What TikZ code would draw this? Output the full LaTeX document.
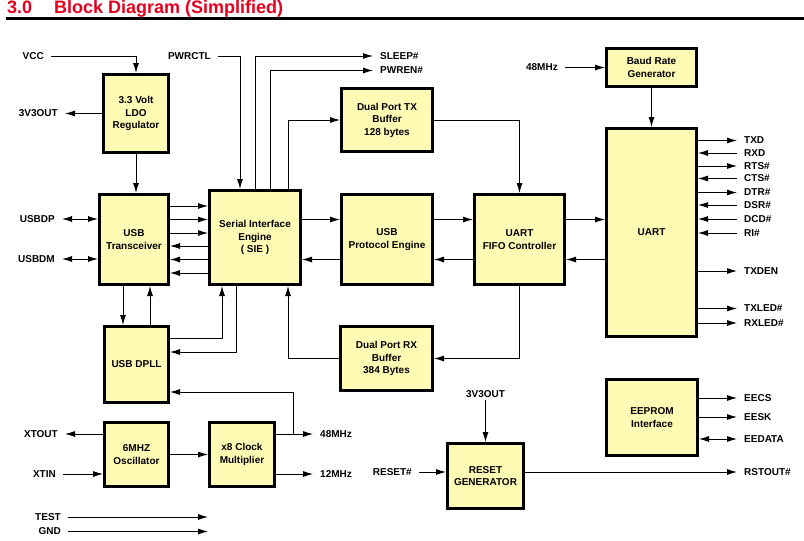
\documentclass[tikz,border=0pt]{standalone}
\usepackage{fontspec}
\setmainfont{Liberation Sans}
\usetikzlibrary{arrows.meta,positioning}
\definecolor{blockfill}{RGB}{255,250,180}
\definecolor{titlered}{RGB}{230,0,30}
\newcommand{\blockfont}{\bfseries\fontsize{10}{12.5}\selectfont}

\begin{document}
\begin{tikzpicture}[x=1pt,y=-1pt,>={Latex[length=10pt,width=6pt]}]
  \useasboundingbox (0,0) rectangle (804,541);
  \begin{scope}[heading/.style={anchor=base west,inner sep=0pt,text=titlered,
      font=\bfseries\fontsize{18}{20}\selectfont}]
    \node[heading] (number) at (7,13) {3.0};
    \node[heading] (heading) at (54,13) {Block Diagram (Simplified)};
    \draw[line width=2.3pt] (6,18.5) -- (804,18.5);
  \end{scope}
  \begin{scope}[
    block/.style={
      draw,
      line width=3pt,
      fill=blockfill,
      align=center,
      font=\blockfont,
    },
    ]
    \node[block,minimum width=65pt,minimum height=78pt] (ldo)    at (136,113.5) {3.3 Volt\\LDO\\Regulator};
    \node[block,minimum width=69pt,minimum height=90pt] (xcvr)   at (134,239.5) {USB\\Transceiver};
    \node[block,minimum width=91pt,minimum height=94pt] (sie)    at (255,237.5) {Serial Interface\\Engine\\( SIE )};
    \node[block,minimum width=64pt,minimum height=76pt] (dpll)   at (136.5,364.5) {USB DPLL};
    \node[block,minimum width=64pt,minimum height=64pt] (osc)    at (136.5,454.5) {6MHZ\\Oscillator};
    \node[block,minimum width=65pt,minimum height=64pt] (mult)   at (242,454.5) {x8 Clock\\Multiplier};
    \node[block,minimum width=91pt,minimum height=63pt] (txbuf)  at (387,120) {Dual Port TX\\Buffer\\128 bytes};
    \node[block,minimum width=91pt,minimum height=90pt] (upe)    at (387,239.5) {USB\\Protocol Engine};
    \node[block,minimum width=90pt,minimum height=90pt] (fifo)   at (519.5,239.5) {UART\\FIFO Controller};
    \node[block,minimum width=90pt,minimum height=38pt] (baud)   at (651.5,67.5) {Baud Rate\\Generator};
    \node[block,minimum width=90pt,minimum height=208pt] (uart)  at (651.5,232.5) {UART};
    \node[block,minimum width=92pt,minimum height=64pt] (rxbuf)  at (386.5,358.5) {Dual Port RX\\Buffer\\384 Bytes};
    \node[block,minimum width=76pt,minimum height=65pt] (rst)    at (485.5,476) {RESET\\GENERATOR};
    \node[block,minimum width=91pt,minimum height=76pt] (eeprom) at (652,417.5) {EEPROM\\Interface};
  \end{scope}
  \begin{scope}[pin/.style={font=\blockfont,inner xsep=7pt,inner ysep=2pt}]
    \node[pin,anchor=east] (vcc)    at (51,56)    {VCC};
    \node[pin,anchor=east] (pwrctl) at (218,56)   {PWRCTL};
    \node[pin,anchor=west] (sleep)  at (373,56)   {SLEEP\#};
    \node[pin,anchor=west] (pwren)  at (373,70.5) {PWREN\#};
    \node[pin,left=37pt of ldo]     (v3out)       {3V3OUT};
    \node[pin,anchor=east] (usbdp)  at (62,219)   {USBDP};
    \node[pin,anchor=east] (usbdm)  at (62,259)   {USBDM};
    \node[pin,anchor=east] (xtout)  at (65,434)   {XTOUT};
    \node[pin,anchor=east] (xtin)   at (63,474)   {XTIN};
    \node[pin,anchor=east] (test)   at (68,517)   {TEST};
    \node[pin,anchor=east] (gnd)    at (68,531.5) {GND};
    \node[pin,anchor=west] (clk48)  at (313,434)  {48MHz};
    \node[pin,anchor=west] (clk12)  at (313,474)  {12MHz};
    \node[pin,left=40pt of baud]    (clkin)       {48MHz};
    \node[pin,above=42pt of rst]    (v3in)        {3V3OUT};
    \node[pin,anchor=east] (rstin)  at (419,472)  {RESET\#};
    \node[pin,anchor=west] (rstout) at (737,472)  {RSTOUT\#};
    \node[pin,anchor=west] (txd)    at (737,140.5) {TXD};
    \node[pin,anchor=west] (rxd)    at (737,153)  {RXD};
    \node[pin,anchor=west] (rts)    at (737,166)  {RTS\#};
    \node[pin,anchor=west] (cts)    at (737,178.5) {CTS\#};
    \node[pin,anchor=west] (dtr)    at (737,192.5) {DTR\#};
    \node[pin,anchor=west] (dsr)    at (737,205)  {DSR\#};
    \node[pin,anchor=west] (dcd)    at (737,219)  {DCD\#};
    \node[pin,anchor=west] (ri)     at (737,233)  {RI\#};
    \node[pin,anchor=west] (txden)  at (737,271)  {TXDEN};
    \node[pin,anchor=west] (txled)  at (737,308.5) {TXLED\#};
    \node[pin,anchor=west] (rxled)  at (737,323)  {RXLED\#};
    \node[pin,anchor=west] (eecs)   at (737,398)  {EECS};
    \node[pin,anchor=west] (eesk)   at (737,417)  {EESK};
    \node[pin,anchor=west] (eedata) at (737,439)  {EEDATA};
  \end{scope}
  \begin{scope}[line width=0.9pt]
    \draw[->] (vcc.east) -| (ldo.north);
    \draw[->] (ldo.west) -- (v3out.east);
    \draw[->] (ldo.south) -- (ldo.south |- xcvr.north);
    \draw[<->] (usbdp.east) -- (usbdp.east -| xcvr.west);
    \draw[<->] (usbdm.east) -- (usbdm.east -| xcvr.west);
    \draw[->] ([yshift=33.5pt]xcvr.east) -- ([yshift=33.5pt]xcvr.east -| sie.west);
    \draw[->] ([yshift=20pt]xcvr.east) -- ([yshift=20pt]xcvr.east -| sie.west);
    \draw[->] ([yshift=6.5pt]xcvr.east) -- ([yshift=6.5pt]xcvr.east -| sie.west);
    \draw[<-] ([yshift=-6.5pt]xcvr.east) -- ([yshift=-6.5pt]xcvr.east -| sie.west);
    \draw[<-] ([yshift=-20pt]xcvr.east) -- ([yshift=-20pt]xcvr.east -| sie.west);
    \draw[<-] ([yshift=-33.5pt]xcvr.east) -- ([yshift=-33.5pt]xcvr.east -| sie.west);
    \draw[->] ([xshift=-11pt]xcvr.south) -- ([xshift=-11pt]xcvr.south |- dpll.north);
    \draw[<-] ([xshift=16pt]xcvr.south) -- ([xshift=16pt]xcvr.south |- dpll.north);
    \draw[->] ([yshift=26.5pt]dpll.east) -| ([xshift=-33pt]sie.south);
    \draw[->] ([xshift=-19pt]sie.south) |- ([yshift=12.5pt]dpll.east);
    \draw[->] (rxbuf.west) -| ([xshift=33pt]sie.south);
    \draw[->] (pwrctl.east) -| ([xshift=-15pt]sie.north);
    \draw[->] (sie.north) |- (sleep.west);
    \draw[->] ([xshift=15pt]sie.north) |- (pwren.west);
    \draw[->] ([xshift=33pt]sie.north) |- (txbuf.west);
    \draw[->] ([yshift=20pt]upe.west -| sie.east) -- ([yshift=20pt]upe.west);
    \draw[<-] ([yshift=-20pt]upe.west -| sie.east) -- ([yshift=-20pt]upe.west);
    \draw[->] ([yshift=20pt]upe.east) -- ([yshift=20pt]fifo.west);
    \draw[<-] ([yshift=-20pt]upe.east) -- ([yshift=-20pt]fifo.west);
    \draw[->] ([yshift=20pt]fifo.east) -- ([yshift=20pt]fifo.east -| uart.west);
    \draw[<-] ([yshift=-20pt]fifo.east) -- ([yshift=-20pt]fifo.east -| uart.west);
    \draw[->] (txbuf.east) -| (fifo.north);
    \draw[->] (fifo.south) |- (rxbuf.east);
    \draw[->] (clkin.east) -- (baud.west);
    \draw[->] (baud.south) -- (uart.north);
    \draw[->] (txd.west -| uart.east) -- (txd.west);
    \draw[<-] (rxd.west -| uart.east) -- (rxd.west);
    \draw[->] (rts.west -| uart.east) -- (rts.west);
    \draw[<-] (cts.west -| uart.east) -- (cts.west);
    \draw[->] (dtr.west -| uart.east) -- (dtr.west);
    \draw[<-] (dsr.west -| uart.east) -- (dsr.west);
    \draw[<-] (dcd.west -| uart.east) -- (dcd.west);
    \draw[<-] (ri.west -| uart.east) -- (ri.west);
    \draw[->] (txden.west -| uart.east) -- (txden.west);
    \draw[->] (txled.west -| uart.east) -- (txled.west);
    \draw[->] (rxled.west -| uart.east) -- (rxled.west);
    \draw[->] (eecs.west -| eeprom.east) -- (eecs.west);
    \draw[->] (eesk.west -| eeprom.east) -- (eesk.west);
    \draw[<->] (eedata.west -| eeprom.east) -- (eedata.west);
    \draw[->] (v3in.south) -- (rst.north);
    \draw[->] (rstin.east) -- (rstin.east -| rst.west);
    \draw[->] (rstout.west -| rst.east) -- (rstout.west);
    \draw[->] (xtout.east -| osc.west) -- (xtout.east);
    \draw[->] (xtin.east) -- (xtin.east -| osc.west);
    \draw[->] (osc.east) -- (mult.west);
    \draw[->] (clk48.west -| mult.east) -- (clk48.west);
    \draw[->] (clk12.west -| mult.east) -- (clk12.west);
    \draw[->] ([xshift=-20pt]clk48.west) |- ([yshift=-27.5pt]dpll.east);
    \draw[->] (test.east) -- (test.east -| mult.west);
    \draw[->] (gnd.east) -- (gnd.east -| mult.west);
  \end{scope}
\end{tikzpicture}
\end{document}
